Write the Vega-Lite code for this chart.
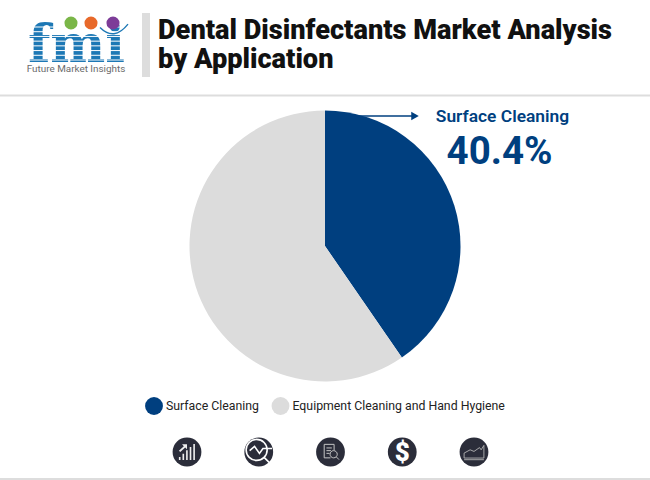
{
  "$schema": "https://vega.github.io/schema/vega-lite/v6.json",
  "width": 650,
  "height": 480,
  "padding": 0,
  "autosize": "none",
  "background": "white",
  "config": {"view": {"stroke": null}, "font": "Roboto"},
  "title": {
    "text": ["Dental Disinfectants Market Analysis", "by Application"],
    "anchor": "start",
    "frame": "bounds",
    "orient": "none",
    "dx": 158,
    "dy": 39,
    "font": "Roboto",
    "fontSize": 27.2,
    "fontWeight": 900,
    "color": "#111111",
    "lineHeight": 29,
    "baseline": "alphabetic"
  },
  "datasets": {
    "share": [
      {"application": "Surface Cleaning", "share": 40.4, "label": "40.4%"},
      {"application": "Equipment Cleaning and Hand Hygiene", "share": 59.6}
    ],
    "icons": [
      {"icon": "growth"},
      {"icon": "analysis"},
      {"icon": "report"},
      {"icon": "pricing", "glyph": "$"},
      {"icon": "trend"}
    ],
    "stripes": [
      {"stripe": 1}, {"stripe": 2}, {"stripe": 3}, {"stripe": 4},
      {"stripe": 5}, {"stripe": 6}, {"stripe": 7}, {"stripe": 8}
    ]
  },
  "layer": [
    {
      "data": {"values": [{"rule": "header"}]},
      "mark": {"type": "rule", "stroke": "#dddddd", "strokeWidth": 2},
      "encoding": {"x": {"value": 0}, "x2": {"value": 650}, "y": {"value": 95.5}}
    },
    {
      "data": {"values": [{"rule": "footer"}]},
      "mark": {"type": "rule", "stroke": "#dddddd", "strokeWidth": 2},
      "encoding": {"x": {"value": 0}, "x2": {"value": 650}, "y": {"value": 479}}
    },
    {
      "data": {"values": [{"rule": "title bar"}]},
      "mark": {"type": "rule", "stroke": "#dddddd", "strokeWidth": 8},
      "encoding": {"x": {"value": 146}, "y": {"value": 13}, "y2": {"value": 77}}
    },
    {
      "data": {"values": [{"logo": "fmi"}]},
      "mark": {"type": "text", "x": 76.5, "y": 62, "align": "center", "baseline": "alphabetic", "font": "DejaVu Serif", "fontWeight": "bold", "fontSize": 52, "fill": "#1d78b5", "text": "fmi"},
      "encoding": {}
    },
    {
      "data": {"name": "stripes"},
      "mark": {"type": "rule", "x": 26, "x2": 128, "stroke": "white", "strokeWidth": 1},
      "encoding": {
        "y": {"field": "stripe", "type": "ordinal", "axis": null, "scale": {"type": "point", "range": [27, 60], "padding": 0}}
      }
    },
    {
      "data": {"values": [{"logo": "name"}]},
      "mark": {"type": "text", "x": 76, "y": 72, "align": "center", "baseline": "alphabetic", "font": "Roboto", "fontSize": 9.9, "fill": "#6b6b6b", "text": "Future Market Insights"},
      "encoding": {}
    },
    {
      "data": {"values": [{"logo": "green"}]},
      "mark": {"type": "point", "x": 71, "y": 23, "shape": "circle", "size": 170, "filled": true, "fill": "#7ab648", "strokeWidth": 0, "opacity": 1},
      "encoding": {}
    },
    {
      "data": {"values": [{"logo": "orange"}]},
      "mark": {"type": "point", "x": 91, "y": 23, "shape": "circle", "size": 170, "filled": true, "fill": "#e8692a", "strokeWidth": 0, "opacity": 1},
      "encoding": {}
    },
    {
      "data": {"values": [{"logo": "purple"}]},
      "mark": {"type": "point", "x": 113, "y": 23, "shape": "circle", "size": 170, "filled": true, "fill": "#7d3c98", "strokeWidth": 0, "opacity": 1},
      "encoding": {}
    },
    {
      "data": {"values": [{"logo": "swoosh"}]},
      "mark": {"type": "point", "x": 114, "y": 29, "size": 784, "filled": false, "fill": null, "stroke": "#1d78b5", "strokeWidth": 1.4, "opacity": 1, "shape": "M-1 -0.1Q0 0.9 1 -0.35"},
      "encoding": {}
    },
    {
      "data": {"name": "share"},
      "mark": {"type": "arc", "outerRadius": 135.5, "x": 325, "y": 246},
      "encoding": {
        "theta": {"field": "share", "type": "quantitative", "stack": true, "scale": {"range": [0, 6.2832]}},
        "order": {"field": "share", "sort": "ascending"},
        "color": {
          "field": "application",
          "type": "nominal",
          "scale": {
            "domain": ["Surface Cleaning", "Equipment Cleaning and Hand Hygiene"],
            "range": ["#003f7f", "#dcdcdc"]
          },
          "legend": {
            "title": null,
            "orient": "none",
            "direction": "horizontal",
            "legendX": 145,
            "legendY": 397,
            "symbolType": "circle",
            "symbolSize": 320,
            "symbolStrokeWidth": 0,
            "labelFont": "Roboto",
            "labelFontSize": 12.3,
            "labelColor": "#222222",
            "labelLimit": 300,
            "columnPadding": 12.5,
            "labelOffset": 3
          }
        }
      }
    },
    {
      "data": {"values": [{"arrow": "callout"}]},
      "mark": {"type": "rule", "stroke": "#003f7f", "strokeWidth": 1.5},
      "encoding": {"x": {"value": 350}, "x2": {"value": 416}, "y": {"value": 116}}
    },
    {
      "data": {"values": [{"arrow": "callout"}]},
      "mark": {"type": "point", "x": 415, "y": 116, "shape": "triangle-right", "size": 75, "filled": true, "fill": "#003f7f", "strokeWidth": 0, "opacity": 1},
      "encoding": {}
    },
    {
      "data": {"name": "share"},
      "transform": [{"filter": "datum.label"}],
      "mark": {"type": "text", "x": 502.5, "y": 122, "align": "center", "baseline": "alphabetic", "fontSize": 17.4, "fontWeight": 600, "fill": "#003f7f"},
      "encoding": {"text": {"field": "application"}}
    },
    {
      "data": {"name": "share"},
      "transform": [{"filter": "datum.label"}],
      "mark": {"type": "text", "x": 499.5, "y": 164, "align": "center", "baseline": "alphabetic", "fontSize": 38.5, "fontWeight": 700, "fill": "#003f7f"},
      "encoding": {"text": {"field": "label"}}
    },
    {
      "data": {"name": "icons"},
      "mark": {"type": "point", "y": 452, "shape": "circle", "size": 830, "filled": true, "fill": "#2b2d3a", "strokeWidth": 0, "opacity": 1},
      "encoding": {
        "x": {
          "field": "icon",
          "type": "ordinal",
          "sort": null,
          "axis": null,
          "scale": {"type": "point", "domain": ["growth", "analysis", "report", "pricing", "trend"], "range": [187, 474], "padding": 0}
        }
      }
    },
    {
      "data": {"name": "icons"},
      "transform": [{"filter": "datum.icon == 'growth'"}],
      "mark": {"type": "point", "y": 452, "size": 324, "filled": true, "fill": "#eeeeee", "strokeWidth": 0, "opacity": 1,
        "shape": "M-0.9 0.9V0.55H-0.72V0.9ZM-0.5 0.9V0.2H-0.32V0.9ZM-0.1 0.9V-0.2H0.08V0.9ZM0.3 0.9V-0.55H0.48V0.9ZM0.7 0.9V-0.9H0.88V0.9ZM-0.9 -0.15L-0.35 -0.65L-0.55 -0.85H0V-0.3L-0.2 -0.5L-0.75 0Z"},
      "encoding": {"x": {"field": "icon", "type": "ordinal", "axis": null}}
    },
    {
      "data": {"name": "icons"},
      "transform": [{"filter": "datum.icon == 'analysis'"}],
      "mark": {"type": "point", "y": 452, "size": 784, "filled": false, "fill": null, "stroke": "white", "strokeWidth": 1.6, "opacity": 1,
        "shape": "M0.6 -0.15A0.75 0.75 0 1 1 -0.9 -0.15A0.75 0.75 0 1 1 0.6 -0.15ZM-0.65 -0.1L-0.3 -0.4L0.05 0.1L0.3 -0.25H0.95M0.4 0.4L0.9 0.9"},
      "encoding": {"x": {"field": "icon", "type": "ordinal", "axis": null}}
    },
    {
      "data": {"name": "icons"},
      "transform": [{"filter": "datum.icon == 'report'"}],
      "mark": {"type": "point", "y": 452, "size": 324, "filled": false, "fill": null, "stroke": "#c4c4c4", "strokeWidth": 1, "opacity": 1,
        "shape": "M0.4 -0.2V-0.85H-0.7V0.65H0M-0.45 -0.45H0.15M-0.45 -0.15H0.05M-0.45 0.15H-0.1M0.75 0.25A0.4 0.4 0 1 1 -0.05 0.25A0.4 0.4 0 1 1 0.75 0.25ZM0.65 0.55L0.95 0.85"},
      "encoding": {"x": {"field": "icon", "type": "ordinal", "axis": null}}
    },
    {
      "data": {"name": "icons"},
      "transform": [{"filter": "datum.icon == 'pricing'"}],
      "mark": {"type": "text", "y": 461, "align": "center", "baseline": "alphabetic", "fontSize": 26, "fontWeight": 900, "fill": "white"},
      "encoding": {"x": {"field": "icon", "type": "ordinal", "axis": null}, "text": {"field": "glyph"}}
    },
    {
      "data": {"name": "icons"},
      "transform": [{"filter": "datum.icon == 'trend'"}],
      "mark": {"type": "point", "y": 452, "size": 484, "filled": false, "fill": null, "stroke": "#b4b4b4", "strokeWidth": 0.9, "opacity": 1,
        "shape": "M-0.9 0.55V0.1L-0.35 -0.2L0 -0.05L0.5 -0.4L0.65 -0.2L0.9 -0.6V0.55ZM-0.9 0.7H0.9"},
      "encoding": {"x": {"field": "icon", "type": "ordinal", "axis": null}}
    }
  ]
}
